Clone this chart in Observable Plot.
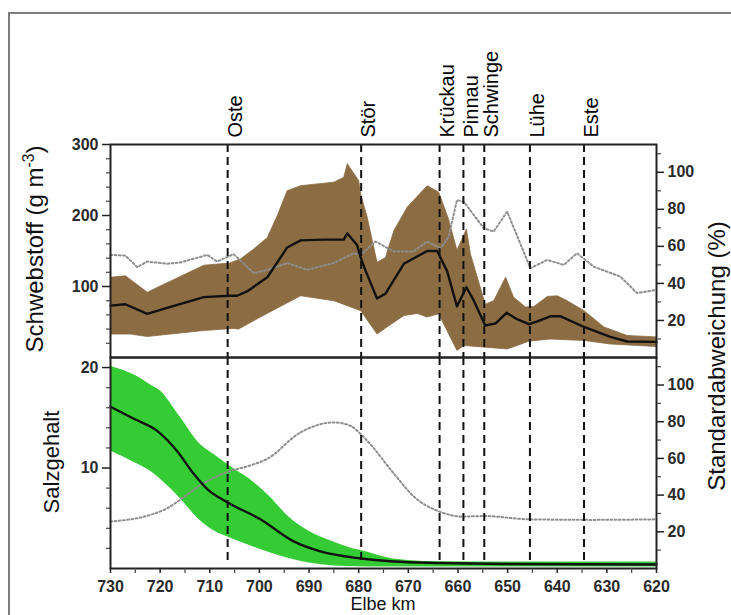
<!DOCTYPE html>
<html><head><meta charset="utf-8">
<script src="https://cdn.jsdelivr.net/npm/d3@7"></script>
<script src="https://cdn.jsdelivr.net/npm/@observablehq/plot@0.6"></script>
<style>
body{margin:0;background:#fff;}
#wrap{position:relative;width:731px;height:615px;overflow:hidden;background:#fff;font-family:"Liberation Sans",Arial,sans-serif;}
#frame{position:absolute;left:8px;top:12px;width:760px;height:640px;border-left:2px solid #7d7d7d;border-top:2px solid #7d7d7d;}
.plotbox{position:absolute;left:0;}
.lab{position:absolute;white-space:nowrap;color:#111;line-height:1;}
.rot{transform:translate(-50%,-50%) rotate(-90deg);}
sup{font-size:0.65em;vertical-align:0.6em;}
</style></head><body>
<div id="wrap">
  <div id="frame"></div>
  <div id="bot" class="plotbox" style="top:347px"></div>
  <div id="top" class="plotbox" style="top:0"></div>
  <div class="lab rot" style="left:34px;top:249px;font-size:24px">Schwebstoff (g m<sup>-3</sup>)</div>
  <div class="lab rot" style="left:52px;top:462px;font-size:22px">Salzgehalt</div>
  <div class="lab rot" style="left:717px;top:356px;font-size:24px">Standardabweichung (%)</div>
  <div class="lab" style="left:383px;top:595px;font-size:18px;transform:translateX(-50%)">Elbe km</div>
</div>
<script>
// Tributaries
const tribNames = ["Oste","Stör","Krückau","Pinnau","Schwinge","Lühe","Este"];
const tribKm = [706.4, 679.5, 663.7, 658.9, 654.7, 645.5, 634.6];

// Axis ticks
const kmTicks = [730,720,710,700,690,680,670,660,650,640,630,620];
const kmMinor = [725,715,705,695,685,675,665,655,645,635,625];
const sedTicks = [100,200,300];
const sedMinor = [20,40,60,80,120,140,160,180,220,240,260,280];
const saltTicks = [10,20];
const saltMinor = [2,4,6,8,12,14,16,18];
const pctTicks = [20,40,60,80,100];
const pctMinor = [10,30,50,70,90,110];

// Schwebstoff (g m-3): mean, upper and lower band edges
const sedMeanKm = [730,727,722.6,718.6,711.2,706,704.5,702.5,698.4,694.4,691.7,687,683,682.3,680.3,679.6,678.6,676.3,674.6,670.9,666.2,664.2,662.2,660.2,658.3,656.8,654.5,652.4,650.2,648.1,645.7,644,641.4,639.3,634.6,629.3,625.9,620];
const sedMean = [73,75,61.5,70,85,87,87,93,113,155,165,166,166,175,158,141,122,83,90,132,150,150,122,72,99,80,45,48,63,54,47,51,58,58,43,29,22.5,22];
const sedHiKm = [730,727,722.6,711.2,706,703.8,701.1,698.4,696.4,694.4,691.7,685,683,682.3,680,679.6,678.3,676.3,674.6,672.9,670.2,666.2,663.9,661.9,660.2,658.3,657.5,654.5,652.8,650.4,648.8,646.4,644.7,642,640,638,634.6,630.6,625.9,620];
const sedHi = [113,115,92,130,133,139,153,169,200,235,242,247,254,273,249,230,198,134,141,179,212,242,233,195,151,181,146,75,80,113,85,71,72,86,87,80,66,43,31,29];
const sedLoKm = [730,726,722.6,711.2,705.2,704.2,699.8,691.7,685,679.6,676.3,674.3,670.9,668.2,666.2,663.9,660.2,658.8,654.5,650.1,645.7,641.4,634.6,629.3,620];
const sedLo = [33,33,29.6,38,41,40,57,87,80,66,33,43,59,62,57,61.5,10,17,14.5,12,23,26,24,19,15.5];
// Standardabweichung Schwebstoff (%)
const sedStdKm = [730,727,724.6,722.6,718.6,715.9,710.5,708.5,705.2,701.1,698.4,694.4,690.4,685,681,679.6,676.6,672.9,669,666.2,663.5,661.9,660.2,658.8,654.8,652.8,650.1,645.4,642,638.7,636,632.6,627.3,623.9,620];
const sedStd = [55.4,55,48.8,51.8,50.6,51.3,55.4,51.8,55.8,45.5,47.3,51,47.3,51,56.3,55.4,62.6,57.2,57.2,62.6,59,65,85,84,69.8,68,78.8,48.2,52.7,50,56.3,49,43.7,34.8,36.5];

// Salzgehalt: mean line, band (upper/lower edge on a shared km grid)
const saltMeanKm = [730,725.3,720.6,716.6,713.2,710.5,706.5,699.8,693.1,687.7,679.6,672.9,663.7,650,620];
const saltMean = [16.1,14.9,13.7,11.7,9.4,7.9,6.6,4.9,2.7,1.7,1.0,0.7,0.55,0.45,0.4];
const saltBandKm = [730,725,722,720,716,712,709,706,702,698,694,690,686,682,678,674,670,664,650,620];
const saltHi = [20.1,19.2,18.3,17.7,15.1,12.4,11.3,10.2,8.9,7.2,5.1,3.7,2.8,2.1,1.6,1.05,0.8,0.67,0.65,0.65];
const saltLo = [11.7,10.5,9.7,8.9,7.0,4.8,3.7,3.05,2.3,1.6,1.0,0.55,0.3,0.2,0.15,0.15,0.15,0.15,0.15,0.15];
// Standardabweichung Salzgehalt (%)
const saltStdKm = [730,722,718.6,715.2,711.9,706.5,701.8,698.4,691.7,685,681.7,679.6,678.3,672.9,668.8,663.7,659,654.7,645.6,632.6,620];
const saltStd = [25.6,29.2,32.8,39,45.4,52.6,56.2,59.8,74.2,79.6,77.8,73.3,69.7,51.7,39,31,28.3,28.6,26.8,26.5,26.8];

// helpers
const pts = (km, v) => km.map((k, i) => ({km: k, v: v[i]}));
const ring = (kmHi, hi, kmLo, lo) => [...pts(kmHi, hi), ...pts(kmLo, lo).reverse()];
const band = (km, hi, lo) => km.map((k, i) => ({km: k, hi: hi[i], lo: lo[i]}));

const SED_MAX = 300, SALT_MAX = 21, PCT_MAX = 115;
const kSed = SED_MAX / PCT_MAX, kSalt = SALT_MAX / PCT_MAX;

const BROWN = "#8c6c43", GREEN = "#35cb35", DOT = "#8e8e8e";
const font = "Liberation Sans, Arial, sans-serif";
const tickText = {fontSize: 16, fontWeight: "bold", fill: "#2a2a2a"};

function sharedY(kPct, yTicks, yMinor) {
  return [
    Plot.axisY({ticks: yTicks, tickSize: 8, tickPadding: 4, label: null, stroke: "#222", strokeWidth: 1.5, ...tickText}),
    Plot.axisY({ticks: yMinor, tickSize: 4, tickFormat: () => "", label: null, stroke: "#444", strokeWidth: 1.2}),
    Plot.axisY({anchor: "right", ticks: pctTicks.map(p => p * kPct), tickFormat: d => Math.round(d / kPct), tickSize: 7, tickPadding: 4, label: null, stroke: "#222", strokeWidth: 1.5, ...tickText}),
    Plot.axisY({anchor: "right", ticks: pctMinor.map(p => p * kPct), tickSize: 4, tickFormat: () => "", label: null, stroke: "#444", strokeWidth: 1.2})
  ];
}

const topPlot = Plot.plot({
  width: 731, height: 358,
  marginLeft: 110, marginRight: 75, marginTop: 144, marginBottom: 1,
  style: {background: "transparent", overflow: "visible", fontFamily: font},
  x: {domain: [730, 620], axis: null},
  y: {domain: [0, SED_MAX]},
  marks: [
    Plot.line(ring(sedHiKm, sedHi, sedLoKm, sedLo), {x: "km", y: "v", fill: BROWN, stroke: BROWN, strokeWidth: 0.8}),
    Plot.line(pts(sedStdKm, sedStd), {x: "km", y: d => d.v * kSed, stroke: DOT, strokeWidth: 2, strokeDasharray: "1.8,2.4"}),
    Plot.line(pts(sedMeanKm, sedMean), {x: "km", y: "v", stroke: "#111", strokeWidth: 2.4}),
    Plot.ruleX(tribKm, {y1: SED_MAX, y2: 0, stroke: "#111", strokeWidth: 2, strokeDasharray: "8,5"}),
    Plot.frame({stroke: "#222", strokeWidth: 2}),
    ...sharedY(kSed, sedTicks, sedMinor),
    Plot.text(tribNames, {x: tribKm, frameAnchor: "top", text: d => d, rotate: -90, textAnchor: "start", dy: -7, fontSize: 20, fill: "#000"})
  ]
});
document.getElementById("top").appendChild(topPlot);

const botPlot = Plot.plot({
  width: 731, height: 268,
  marginLeft: 110, marginRight: 75, marginTop: 10, marginBottom: 47,
  style: {background: "transparent", overflow: "visible", fontFamily: font},
  x: {domain: [730, 620]},
  y: {domain: [0, SALT_MAX]},
  marks: [
    Plot.areaY(band(saltBandKm, saltHi, saltLo), {x: "km", y1: "lo", y2: "hi", fill: GREEN, curve: "monotone-x"}),
    Plot.line(pts(saltStdKm, saltStd), {x: "km", y: d => d.v * kSalt, stroke: DOT, strokeWidth: 2, strokeDasharray: "1.8,2.4", curve: "monotone-x"}),
    Plot.line(pts(saltMeanKm, saltMean), {x: "km", y: "v", stroke: "#111", strokeWidth: 2.4, curve: "monotone-x"}),
    Plot.ruleX(tribKm, {y1: SALT_MAX, y2: 0.7, stroke: "#111", strokeWidth: 2, strokeDasharray: "8,5"}),
    Plot.frame({stroke: "#222", strokeWidth: 2}),
    ...sharedY(kSalt, saltTicks, saltMinor),
    Plot.axisX({ticks: kmTicks, tickSize: 5, tickPadding: 7, label: null, stroke: "#222", strokeWidth: 1.5, ...tickText}),
    Plot.axisX({ticks: kmMinor, tickSize: 5, tickFormat: () => "", label: null, stroke: "#444", strokeWidth: 1.2})
  ]
});
document.getElementById("bot").appendChild(botPlot);
</script>
</body></html>
